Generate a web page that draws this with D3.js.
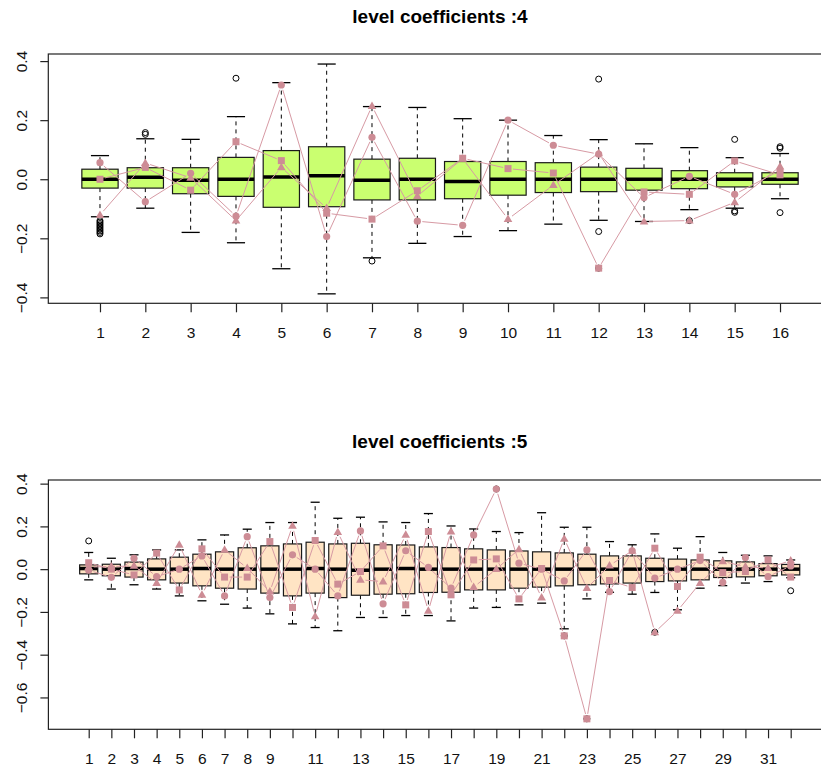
<!DOCTYPE html>
<html><head><meta charset="utf-8">
<script src="https://cdn.jsdelivr.net/npm/d3@7"></script>
<style>
body{margin:0;background:#fff}
svg{display:block}
text{font-family:"Liberation Sans",Arial,sans-serif}
</style>
</head><body>
<svg id="chart" width="821" height="769"></svg>
<script>
// ---------- Panel 1: level coefficients :4 ----------
const topTitle = "level coefficients :4";
const topLabels = ["1","2","3","4","5","6","7","8","9","10","11","12","13","14","15","16"];
const topLo  = [-0.127,-0.098,-0.180,-0.215,-0.303,-0.388,-0.266,-0.217,-0.194,-0.174,-0.152,-0.139,-0.143,-0.103,-0.098,-0.066];
const topQ1  = [-0.030,-0.030,-0.049,-0.058,-0.095,-0.093,-0.070,-0.070,-0.066,-0.054,-0.045,-0.042,-0.037,-0.032,-0.026,-0.017];
const topMed = [0.000,0.007,-0.003,0.000,0.008,0.012,-0.003,0.000,-0.008,0.000,0.000,0.000,0.000,0.000,0.000,0.000];
const topQ3  = [0.034,0.039,0.039,0.074,0.097,0.110,0.068,0.071,0.060,0.060,0.056,0.041,0.037,0.029,0.022,0.022];
const topHi  = [0.080,0.137,0.135,0.212,0.327,0.390,0.246,0.243,0.205,0.200,0.148,0.134,0.120,0.107,0.073,0.087];
const topOut = [[-0.14,-0.145,-0.15,-0.155,-0.16,-0.165,-0.17,-0.175,-0.18,-0.185],[0.152,0.158],[],[0.342],[],[],[-0.277],[],[],[],[],[0.339,-0.177,-0.301],[],[-0.14],[0.135,-0.107,-0.112],[0.105,0.11,-0.113]];
const topSquare   = [0.000,0.040,-0.037,0.127,0.063,-0.115,-0.135,-0.039,0.071,0.036,0.021,-0.301,-0.043,-0.051,0.062,0.015];
const topCircle   = [0.056,-0.076,0.020,-0.125,0.319,-0.194,0.142,-0.142,-0.156,0.200,0.115,0.085,-0.062,0.010,-0.051,0.030];
const topTriangle = [-0.121,0.055,0.005,-0.140,0.040,-0.098,0.248,-0.057,0.070,-0.135,-0.020,0.088,-0.143,-0.140,-0.078,0.043];
const topYTicks = [-0.4,-0.2,0.0,0.2,0.4];

// ---------- Panel 2: level coefficients :5 ----------
const botTitle = "level coefficients :5";
const botLabels = ["1","2","3","4","5","6","7","8","9","","11","","13","","15","","17","","19","","21","","23","","25","","27","","29","","31",""];
const botLo  = [-0.050,-0.093,-0.073,-0.093,-0.125,-0.148,-0.164,-0.182,-0.209,-0.256,-0.273,-0.288,-0.226,-0.226,-0.217,-0.217,-0.242,-0.182,-0.179,-0.167,-0.159,-0.279,-0.139,-0.108,-0.117,-0.109,-0.190,-0.089,-0.077,-0.065,-0.058,-0.040];
const botQ1  = [-0.022,-0.031,-0.037,-0.050,-0.065,-0.078,-0.089,-0.093,-0.112,-0.125,-0.112,-0.133,-0.122,-0.117,-0.115,-0.109,-0.108,-0.097,-0.097,-0.089,-0.084,-0.078,-0.073,-0.069,-0.065,-0.058,-0.055,-0.050,-0.039,-0.036,-0.031,-0.027];
const botMed = [0.003,0.000,0.003,0.000,0.000,0.003,0.000,0.000,0.000,0.000,0.003,0.000,-0.005,0.000,0.003,0.000,0.000,0.000,0.000,0.000,0.000,0.000,0.000,0.000,0.000,0.000,0.000,0.000,0.000,0.000,0.000,0.000];
const botQ3  = [0.020,0.023,0.033,0.048,0.056,0.070,0.081,0.100,0.109,0.118,0.126,0.118,0.121,0.114,0.113,0.104,0.101,0.095,0.090,0.085,0.081,0.076,0.070,0.062,0.062,0.051,0.047,0.043,0.039,0.034,0.026,0.022];
const botHi  = [0.078,0.051,0.067,0.090,0.090,0.137,0.160,0.187,0.218,0.218,0.313,0.238,0.243,0.221,0.218,0.260,0.202,0.188,0.176,0.171,0.264,0.196,0.196,0.129,0.114,0.165,0.098,0.152,0.078,0.065,0.062,0.043];
const botOut = [[0.132],[],[],[],[],[],[],[],[],[],[],[],[],[],[],[],[],[],[0.375],[],[],[-0.312],[-0.700],[],[],[-0.295],[],[],[],[],[],[-0.101]];
const botSquare   = [0.030,0.000,-0.027,0.075,-0.097,0.095,-0.037,-0.037,0.129,-0.179,0.134,-0.070,-0.011,0.109,-0.167,0.176,-0.120,0.043,0.048,-0.139,0.003,-0.312,-0.700,-0.053,-0.086,0.098,-0.081,0.056,-0.016,-0.011,0.043,-0.037];
const botCircle   = [-0.005,-0.038,0.051,-0.035,0.000,0.062,-0.125,0.152,-0.133,0.067,0.000,-0.125,0.179,-0.162,0.086,0.008,-0.089,0.160,0.375,0.028,0.000,-0.055,0.090,-0.105,0.086,-0.042,0.000,0.040,-0.062,0.054,-0.035,0.015];
const botTriangle = [0.010,0.012,0.015,-0.065,0.114,-0.120,0.090,0.005,-0.105,0.202,-0.221,0.173,-0.050,-0.058,0.160,-0.195,0.176,-0.084,0.000,0.093,-0.133,0.142,-0.089,0.017,0.086,-0.295,-0.195,-0.065,0.036,0.012,0.005,0.040];
const botYTicks = [-0.6,-0.4,-0.2,0.0,0.2,0.4];

const svg = d3.select("#chart");
const markColor = "#CD8C95";
const lineColor = "#D79AA4";

function drawPanel(o) {
  const n = o.labels.length;
  const pad = (n) * 0.04;
  const x = d3.scaleLinear().domain([0.5 - pad, n + 0.5 + pad]).range([o.left, o.right]);
  const y = d3.scaleLinear().domain(o.yDomain).range([o.bottom, o.top]);
  const unit = x(2) - x(1);
  const bw = unit * 0.8;
  const g = svg.append("g");

  // title
  g.append("text").attr("x", (o.left + o.right) / 2).attr("y", o.titleY)
    .attr("text-anchor", "middle").attr("font-weight", "bold").attr("font-size", 19)
    .attr("fill", "#000").text(o.title);

  const idx = d3.range(n);
  // whiskers (dashed)
  const wg = g.append("g").attr("stroke", "#000").attr("stroke-width", 1).attr("stroke-dasharray", "4,4");
  idx.forEach(i => {
    const cx = x(i + 1);
    wg.append("line").attr("x1", cx).attr("x2", cx).attr("y1", y(o.q3[i])).attr("y2", y(o.hi[i]));
    wg.append("line").attr("x1", cx).attr("x2", cx).attr("y1", y(o.q1[i])).attr("y2", y(o.lo[i]));
  });
  // staples
  const sg = g.append("g").attr("stroke", "#000").attr("stroke-width", 1.3);
  idx.forEach(i => {
    const cx = x(i + 1);
    [o.hi[i], o.lo[i]].forEach(v => {
      sg.append("line").attr("x1", cx - bw / 4).attr("x2", cx + bw / 4).attr("y1", y(v)).attr("y2", y(v));
    });
  });
  // boxes
  g.append("g").selectAll("rect").data(idx).join("rect")
    .attr("x", i => x(i + 1) - bw / 2).attr("width", bw)
    .attr("y", i => y(o.q3[i])).attr("height", i => y(o.q1[i]) - y(o.q3[i]))
    .attr("fill", o.fill).attr("stroke", "#1a1a1a").attr("stroke-width", 1.2);
  // medians
  g.append("g").selectAll("line").data(idx).join("line")
    .attr("x1", i => x(i + 1) - bw / 2).attr("x2", i => x(i + 1) + bw / 2)
    .attr("y1", i => y(o.med[i])).attr("y2", i => y(o.med[i]))
    .attr("stroke", "#000").attr("stroke-width", 3.5);
  // outliers
  const og = g.append("g").attr("fill", "none").attr("stroke", "#000").attr("stroke-width", 1);
  idx.forEach(i => {
    o.out[i].forEach(v => {
      og.append("circle").attr("cx", x(i + 1)).attr("cy", y(v)).attr("r", 3);
    });
  });

  // series: lines with gaps (type = "b") then markers
  const series = [
    {vals: o.sq, shape: "square"},
    {vals: o.ci, shape: "circle"},
    {vals: o.tr, shape: "triangle"}
  ];
  const gap = 5;
  series.forEach(s => {
    const pts = s.vals.map((v, i) => [x(i + 1), y(v)]);
    const lg = g.append("g").attr("stroke", lineColor).attr("stroke-width", 1).attr("fill", "none");
    for (let i = 0; i < pts.length - 1; i++) {
      const [x1, y1] = pts[i], [x2, y2] = pts[i + 1];
      const dx = x2 - x1, dy = y2 - y1, L = Math.hypot(dx, dy);
      if (L <= 2 * gap) continue;
      const ux = dx / L, uy = dy / L;
      lg.append("line").attr("x1", x1 + ux * gap).attr("y1", y1 + uy * gap)
        .attr("x2", x2 - ux * gap).attr("y2", y2 - uy * gap);
    }
  });
  series.forEach(s => {
    const mg = g.append("g").attr("fill", markColor);
    s.vals.forEach((v, i) => {
      const cx = x(i + 1), cy = y(v);
      if (s.shape === "square") {
        mg.append("rect").attr("x", cx - 3.5).attr("y", cy - 3.5).attr("width", 7).attr("height", 7);
      } else if (s.shape === "circle") {
        mg.append("circle").attr("cx", cx).attr("cy", cy).attr("r", 3.6);
      } else {
        mg.append("path").attr("d", `M${cx},${cy - 4.6}L${cx + 4.3},${cy + 2.9}L${cx - 4.3},${cy + 2.9}Z`);
      }
    });
  });

  // frame
  g.append("rect").attr("x", o.left).attr("y", o.top).attr("width", o.right - o.left).attr("height", o.bottom - o.top)
    .attr("fill", "none").attr("stroke", "#222").attr("stroke-width", 1.2);

  // y axis
  const ya = g.append("g").attr("transform", `translate(${o.left},0)`)
    .call(d3.axisLeft(y).tickValues(o.yTicks).tickFormat(d3.format(".1f")).tickSize(8));
  ya.select(".domain").remove();
  ya.selectAll(".tick line").attr("stroke", "#222").attr("stroke-width", 1.2);
  ya.selectAll(".tick text").attr("transform", "rotate(-90)").attr("x", 0).attr("y", -21).attr("dy", 0)
    .attr("text-anchor", "middle").attr("font-size", 15.5).attr("fill", "#111")
    .attr("font-family", '"Liberation Sans",Arial,sans-serif');

  // x axis
  const xa = g.append("g").attr("transform", `translate(0,${o.bottom})`)
    .call(d3.axisBottom(x).tickValues(d3.range(1, n + 1)).tickFormat(d => o.labels[d - 1]).tickSize(9));
  xa.select(".domain").remove();
  xa.selectAll(".tick line").attr("stroke", "#222").attr("stroke-width", 1.2);
  xa.selectAll(".tick text").attr("y", 35).attr("dy", 0).attr("font-size", 15.5).attr("fill", "#111")
    .attr("font-family", '"Liberation Sans",Arial,sans-serif');
}

drawPanel({
  title: topTitle, titleY: 23, labels: topLabels,
  left: 48.3, right: 831.7, top: 54, bottom: 303.3, yDomain: [-0.42, 0.424],
  lo: topLo, q1: topQ1, med: topMed, q3: topQ3, hi: topHi, out: topOut,
  sq: topSquare, ci: topCircle, tr: topTriangle, yTicks: topYTicks, fill: "#CAFF70"
});
drawPanel({
  title: botTitle, titleY: 448, labels: botLabels,
  left: 48.4, right: 831, top: 480, bottom: 729.3, yDomain: [-0.749, 0.417],
  lo: botLo, q1: botQ1, med: botMed, q3: botQ3, hi: botHi, out: botOut,
  sq: botSquare, ci: botCircle, tr: botTriangle, yTicks: botYTicks, fill: "#FFE4C4"
});
</script>
</body></html>
